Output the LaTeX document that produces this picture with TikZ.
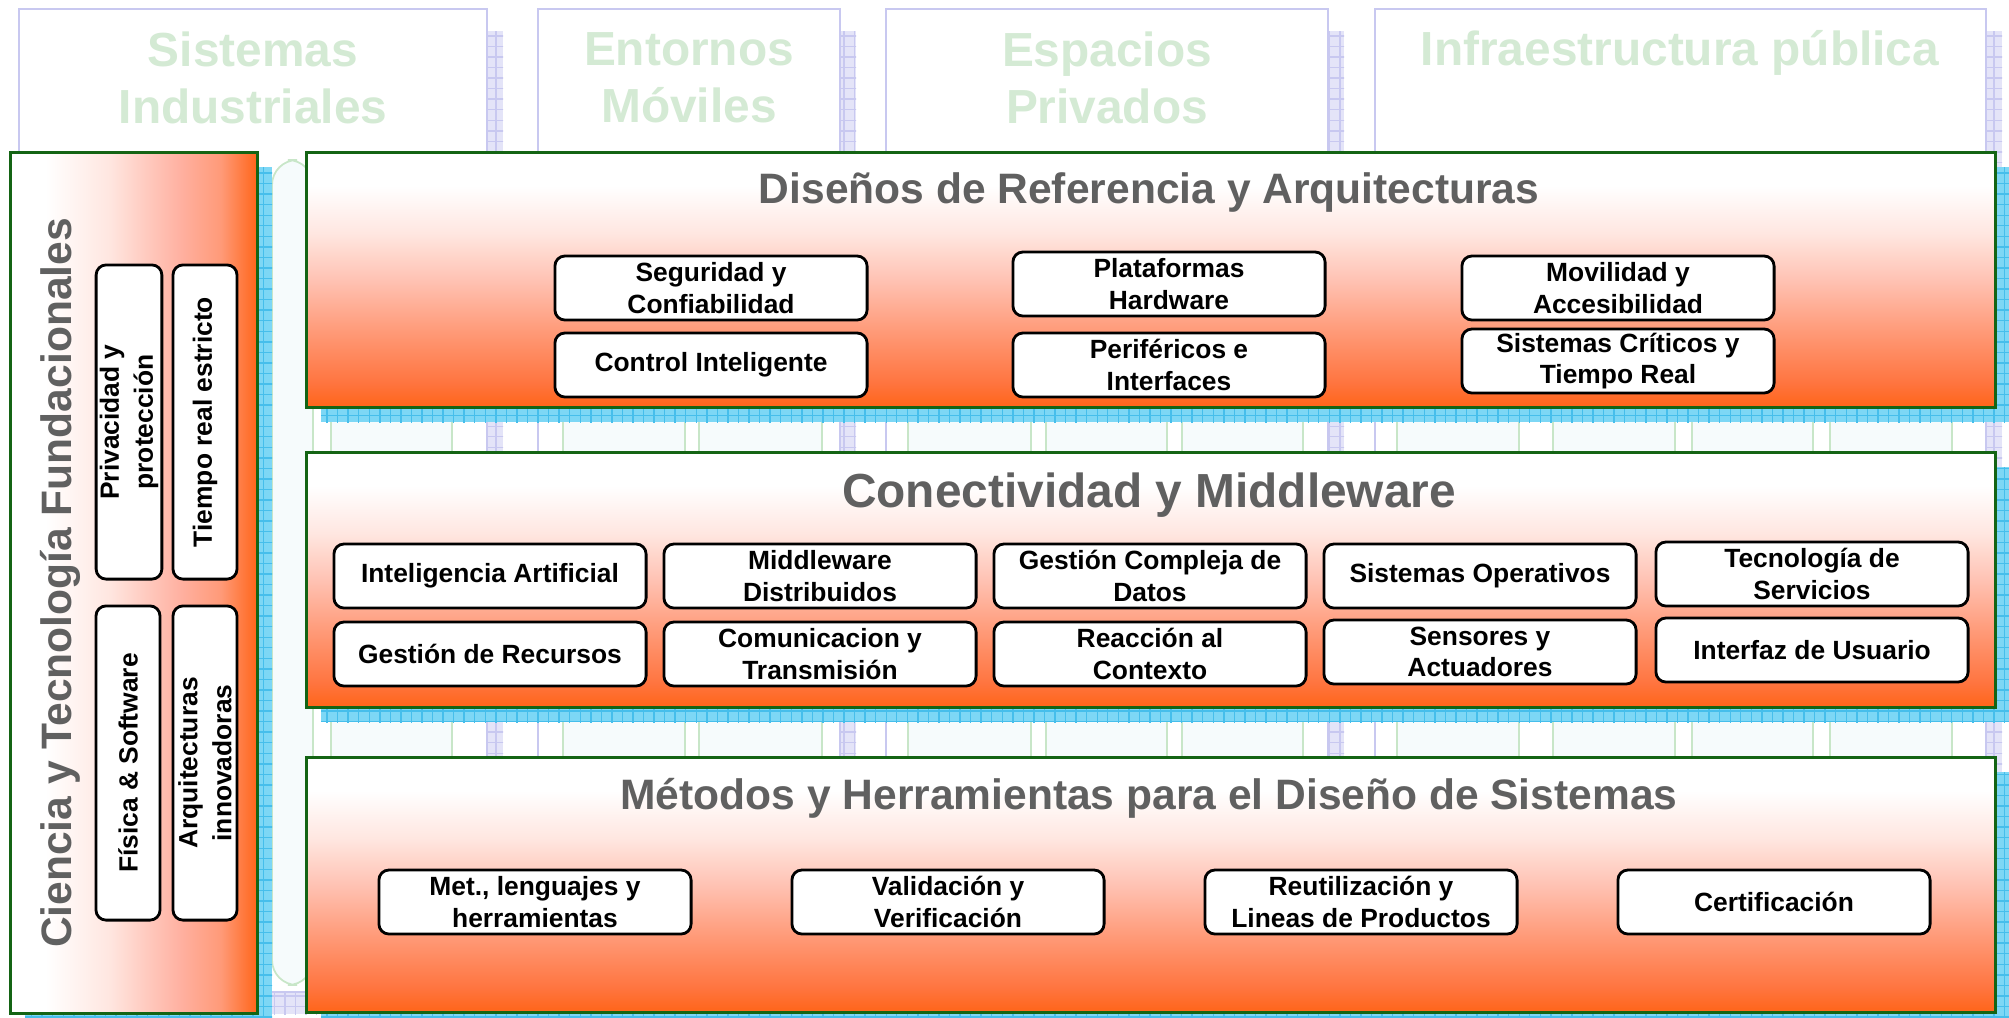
\documentclass[tikz,border=0pt]{standalone}
\usepackage{fontspec}
\setmainfont{Liberation Sans}
\usepackage{xcolor}
\usepackage{tikz}
\usetikzlibrary{patterns}
\newcommand{\boxtiny}{\fontsize{7.5pt}{9pt}\selectfont\bfseries}
\newcommand{\sidetiny}{\fontsize{7.5pt}{9.7pt}\selectfont\bfseries}
\newcommand{\layerfont}{\fontsize{12.1pt}{14pt}\selectfont\bfseries}
\newcommand{\bigfont}{\fontsize{13.6pt}{16pt}\selectfont\bfseries}
\newcommand{\headfont}{\fontsize{13.6pt}{16.2pt}\selectfont\bfseries}

\definecolor{orngdeep}{RGB}{255,100,24}
\definecolor{orngB}{RGB}{255,117,64}
\definecolor{orngC}{RGB}{255,154,120}
\definecolor{orngD}{RGB}{255,192,176}
\definecolor{orngDD}{RGB}{255,176,160}
\definecolor{orngE}{RGB}{255,230,224}
\definecolor{layergreen}{RGB}{20,100,20}
\definecolor{titlegray}{RGB}{96,96,96}
\definecolor{headgreen}{RGB}{212,234,212}
\definecolor{lavline}{RGB}{200,200,240}
\definecolor{lavfill}{RGB}{228,228,248}
\definecolor{cyanA}{RGB}{125,215,245}
\definecolor{cyanB}{RGB}{70,190,235}
\definecolor{subgreen}{RGB}{200,230,200}
\definecolor{subfill}{RGB}{246,251,252}

\pgfdeclareverticalshading{layershade}{100bp}{color(0bp)=(orngdeep); color(25bp)=(orngdeep); color(30bp)=(orngB); color(40bp)=(orngC); color(49.5bp)=(orngD); color(59bp)=(orngE); color(68.5bp)=(white); color(100bp)=(white)}
\pgfdeclarehorizontalshading{sideshade}{100bp}{color(0bp)=(white); color(32bp)=(white); color(45bp)=(orngE); color(59.5bp)=(orngDD); color(67.5bp)=(orngC); color(75bp)=(orngdeep); color(100bp)=(orngdeep)}

\begin{document}
\begin{tikzpicture}[x=0.01cm,y=-0.01cm,
    headbox/.style={draw=lavline,line width=0.6pt,fill=white},
    headshadow/.style={fill=lavfill,postaction={pattern=grid,pattern color=lavline}},
    headtext/.style={text=headgreen,font=\headfont,align=center},
    subcol/.style={draw=subgreen,line width=0.5pt,fill=subfill,rounded corners=0.25cm},
    cyanshadow/.style={fill=cyanA,postaction={pattern=grid,pattern color=cyanB}},
    layer/.style={draw=layergreen,line width=0.9pt,shading=layershade,anchor=north west,inner sep=0pt,minimum width=16.88cm,minimum height=2.55cm},
    ltitle/.style={text=titlegray,font=\layerfont},
    item/.style={draw=black,line width=0.8pt,fill=white,rounded corners=0.1cm,align=center,font=\boxtiny,inner sep=1pt,minimum width=3.12cm,minimum height=0.64cm},
    sideitem/.style={item,font=\sidetiny,rotate=90,minimum width=3.14cm,minimum height=0.64cm}]
                \useasboundingbox (0,0) rectangle (2009,1017);

                % Application domains (background)
                \fill[headshadow] (35,31) rectangle (503,1014);
                \fill[headshadow] (554,31) rectangle (856,1014);
                \fill[headshadow] (902,31) rectangle (1344,1014);
                \fill[headshadow] (1391,31) rectangle (2002,1014);
                \draw[headbox] (19,9) rectangle (487,992);
                \draw[headbox] (538,9) rectangle (840,992);
                \draw[headbox] (886,9) rectangle (1328,992);
                \draw[headbox] (1375,9) rectangle (1986,992);
                \node[headtext] (hind) at (253,78) {Sistemas\\Industriales};
                \node[headtext] (hmov) at (689,78) {Entornos\\Móviles};
                \node[headtext] (hpri) at (1107,78) {Espacios\\Privados};
                \node[headtext] (hpub) at (1680,53) {Infraestructura pública};
                \foreach \a/\b in {272/313,331/452,563/685,699/822,908/1031,1046/1167,1182/1303,1397/1519,1553/1675,1692/1813,1830/1952}
                    \draw[subcol] (\a,160) rectangle (\b,985);

                % Shadows
                \fill[cyanshadow] (25,167) rectangle (272,1027);
                \fill[cyanshadow] (321,167) rectangle (2009,422);
                \fill[cyanshadow] (321,467) rectangle (2009,722);
                \fill[cyanshadow] (321,772) rectangle (2009,1027);

                % Foundations column
                \node[draw=layergreen,line width=0.9pt,shading=sideshade,anchor=north west,inner sep=0pt,minimum width=2.47cm,minimum height=8.6cm] (cien) at (9,151) {};
                \node[text=titlegray,font=\layerfont,rotate=90] (tcien) at (60,583) {Ciencia y Tecnología Fundacionales};
                \node[sideitem] (priv) at (129,422) {Privacidad y\\protección};
                \node[sideitem] (trea) at (205,422) {Tiempo real estricto};
                \node[sideitem] (fisi) at (128,763) {Física \& Software};
                \node[sideitem] (arqu) at (205,763) {Arquitecturas\\innovadoras};

                % Reference designs
                \node[layer] (dis) at (305,151) {};
                \node[ltitle] (tdis) at (1149,192) {Diseños de Referencia y Arquitecturas};
                \node[item] (segu) at (711,288) {Seguridad y\\Confiabilidad};
                \node[item] (ctrl) at (711,365) {Control Inteligente};
                \node[item] (plat) at (1169,284) {Plataformas\\Hardware};
                \node[item] (peri) at (1169,365) {Periféricos e\\Interfaces};
                \node[item] (movi) at (1618,288) {Movilidad y\\Accesibilidad};
                \node[item] (crit) at (1618,361) {Sistemas Críticos y\\Tiempo Real};

                % Connectivity
                \node[layer] (con) at (305,451) {};
                \node[text=titlegray,font=\bigfont] (tcon) at (1149,495) {Conectividad y Middleware};
                \node[item] (inte) at (490,576) {Inteligencia Artificial};
                \node[item] (midd) at (820,576) {Middleware\\Distribuidos};
                \node[item] (gcom) at (1150,576) {Gestión Compleja de\\Datos};
                \node[item] (soper) at (1480,576) {Sistemas Operativos};
                \node[item] (tecn) at (1812,574) {Tecnología de\\Servicios};
                \node[item] (grec) at (490,654) {Gestión de Recursos};
                \node[item] (comu) at (820,654) {Comunicacion y\\Transmisión};
                \node[item] (reac) at (1150,654) {Reacción al\\Contexto};
                \node[item] (sens) at (1480,652) {Sensores y\\Actuadores};
                \node[item] (intf) at (1812,650) {Interfaz de Usuario};

                % Methods and tools
                \node[layer] (met) at (305,756) {};
                \node[ltitle] (tmet) at (1149,798) {Métodos y Herramientas para el Diseño de Sistemas};
                \node[item] (leng) at (535,902) {Met., lenguajes y\\herramientas};
                \node[item] (vali) at (948,902) {Validación y\\Verificación};
                \node[item] (reut) at (1361,902) {Reutilización y\\Lineas de Productos};
                \node[item] (cert) at (1774,902) {Certificación};
            \end{tikzpicture}
\end{document}
